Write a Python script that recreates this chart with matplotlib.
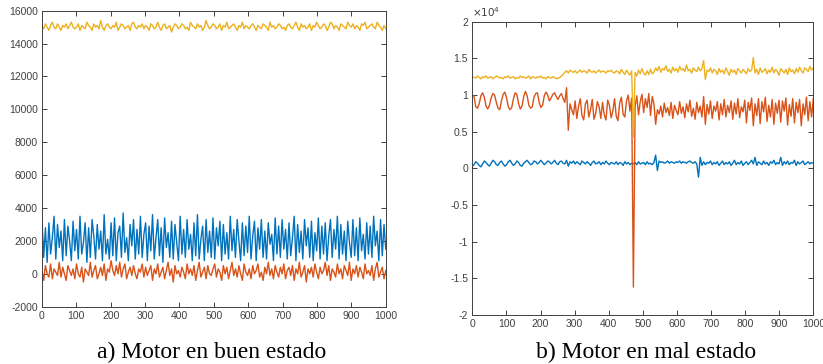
import numpy as np
import matplotlib
matplotlib.use("Agg")
import matplotlib.pyplot as plt
from matplotlib.ticker import FuncFormatter

plt.rcParams['axes.unicode_minus'] = False
plt.rcParams['font.family'] = ['Liberation Sans', 'DejaVu Sans']

# ---- Data (values in hundreds of raw units) ----
good_yellow = [
    151,149,152,150,148,151,153,150,149,152,150,148,151,150,152,149,151,153,150,149,
    150,152,148,151,150,149,153,151,150,148,152,150,151,149,154,150,148,151,152,150,
    149,151,150,153,148,150,152,151,149,150,151,148,152,153,150,149,151,150,152,149,
    151,150,148,152,151,149,150,153,150,148,151,152,149,150,151,147,150,152,151,149,
    150,152,151,149,150,148,153,151,150,149,152,150,151,148,150,154,151,149,150,152,
    151,149,150,152,148,151,150,153,149,150,151,152,150,148,151,150,153,149,151,150,
    149,151,152,150,148,151,150,149,152,151,150,148,153,150,151,149,150,152,151,149,
    150,148,151,152,150,149,151,153,150,148,152,150,151,149,150,152,148,151,150,153,
    151,149,150,152,151,148,150,153,152,149,151,150,148,152,151,150,149,153,151,150,
    152,149,151,150,148,152,151,153,149,150,151,152,150,149,153,151,150,148,151,149,
]
good_blue = [
    33,10,28,7,31,12,22,35,9,30,16,26,8,33,11,29,20,8,32,14,
    27,9,35,12,19,31,7,28,10,33,23,9,30,15,26,8,36,12,21,9,
    31,11,34,8,25,29,10,37,13,22,8,30,17,33,9,27,12,35,10,24,
    31,8,29,14,36,9,22,33,11,28,7,34,16,25,10,32,9,30,19,8,
    35,12,27,10,33,15,24,8,31,11,36,9,21,29,8,33,13,26,10,34,
    9,28,17,32,8,30,12,25,9,35,14,27,10,33,20,8,31,11,29,13,
    35,9,23,32,8,28,15,33,10,26,9,31,18,24,8,34,12,29,10,33,
    15,27,9,31,11,22,35,8,30,13,26,9,33,17,28,10,32,8,25,14,
    34,9,29,12,31,8,23,33,10,27,15,35,9,30,12,26,8,32,19,10,
    33,11,28,8,34,14,24,9,31,12,29,10,35,17,26,8,33,11,30,15,
]
good_red = [
    2,-4,5,0,-2,6,-3,3,1,-1,7,-2,4,0,-4,5,2,-1,3,-3,
    6,0,-2,4,-5,3,1,-1,7,-2,2,5,-3,0,4,-1,6,-4,3,1,
    8,2,-1,5,0,7,-2,3,6,-3,1,4,-1,5,0,-3,3,1,6,-2,
    4,-1,2,5,-4,3,0,6,-2,1,4,-3,2,7,-1,3,-5,5,0,2,
    -2,4,1,-3,6,0,3,-1,5,-4,2,7,-2,1,4,-3,5,0,-1,3,
    6,-2,3,1,-4,5,0,4,-3,2,7,-1,3,-2,5,0,-4,6,1,-1,
    3,-3,5,0,2,6,-2,1,-4,4,0,7,-1,3,-3,5,1,-2,4,0,
    6,-3,2,4,-1,5,-4,3,0,7,-2,1,5,-5,3,0,4,-2,6,1,
    -3,4,0,2,7,-1,5,-4,3,1,-2,6,0,3,-3,5,2,-1,7,-4,
    3,0,5,-2,4,1,-3,6,0,2,-1,5,-4,3,7,-2,1,4,-3,2,
]
bad_yellow = [
    125,124,123,126,124,122,125,124,126,123,124,125,122,124,126,125,123,124,122,125,
    124,126,123,124,125,122,124,123,126,124,125,123,124,126,122,125,124,123,125,124,
    126,123,124,122,125,124,123,125,124,122,123,124,126,128,131,133,130,134,132,131,
    133,130,132,134,131,133,132,130,135,132,131,133,130,132,134,131,133,132,130,133,
    132,134,131,130,133,132,129,135,131,128,134,130,127,133,43,131,126,134,129,136,
    130,127,133,128,135,129,131,137,133,139,131,136,134,140,132,135,130,138,133,136,
    131,139,134,136,132,141,133,135,130,137,134,132,138,133,136,147,121,134,132,137,
    130,135,133,128,136,131,134,129,137,132,127,135,131,134,128,136,133,130,135,132,
    129,136,132,134,151,130,135,128,137,131,133,136,129,134,131,138,130,135,132,127,
    136,133,130,135,128,137,132,134,129,136,131,138,133,130,137,135,132,139,134,137,
]
bad_red = [
    100,98,84,82,88,99,103,97,85,81,86,96,102,100,90,82,80,92,101,104,
    96,84,80,83,95,103,101,88,81,85,98,105,99,86,82,84,97,102,103,90,
    83,86,99,104,100,92,96,101,103,98,94,99,102,95,90,110,52,88,80,73,
    92,68,85,95,72,66,88,93,70,80,94,67,75,91,84,68,90,73,66,93,
    86,69,78,95,71,65,89,97,74,70,92,100,78,96,-162,84,99,73,91,101,
    76,95,83,102,72,98,88,60,80,74,85,70,89,76,83,72,90,68,86,79,
    73,91,75,84,69,88,77,93,71,82,67,90,76,85,70,98,60,87,74,92,
    68,85,78,91,66,88,73,94,70,86,76,92,67,89,74,95,69,84,77,93,
    62,90,79,96,58,88,72,95,61,91,77,97,64,86,70,94,60,89,75,93,
    63,92,78,96,59,87,71,95,62,90,76,94,58,88,73,97,65,91,70,95,
]
bad_blue = [
    3,5,9,7,4,2,6,10,8,5,3,7,11,9,5,4,8,10,6,3,
    5,9,11,7,4,6,10,8,4,3,7,9,11,8,5,6,10,9,6,8,
    11,8,5,7,10,9,6,8,11,7,5,9,10,7,6,11,3,9,7,10,
    6,9,7,5,10,8,6,9,7,4,8,10,6,7,9,5,8,6,10,7,
    5,8,7,6,9,5,8,7,4,9,6,8,5,7,6,8,5,9,6,7,
    8,5,9,6,7,5,8,18,-3,10,8,9,7,8,10,7,9,8,7,9,
    8,10,7,9,8,7,9,10,8,7,9,6,-12,15,4,9,5,8,7,10,
    5,8,6,9,4,7,10,5,8,6,9,4,7,11,5,8,6,10,4,7,
    9,5,8,11,6,15,4,9,7,5,10,6,8,4,9,7,11,5,8,6,
    15,4,9,6,10,5,8,7,11,4,9,6,8,10,5,7,9,6,8,7,
]
UNIT = 100
x_max = 1000
left_yticks = [-2000, 0, 2000, 4000, 6000, 8000, 10000, 12000, 14000, 16000]
right_yticks = [-20000, -15000, -10000, -5000, 0, 5000, 10000, 15000, 20000]
xticks = list(range(0, 1001, 100))
captions = ["a) Motor en buen estado", "b) Motor en mal estado"]

C_BLUE = '#0072BD'
C_RED = '#D95319'
C_YEL = '#EDB120'
AX_COL = '#404040'

fig = plt.figure(figsize=(8.23, 3.64), dpi=100)
axL = fig.add_axes([0.0510, 0.1574, 0.4177, 0.8132])
axR = fig.add_axes([0.5739, 0.1346, 0.4143, 0.8058])

def series_x(vals):
    return np.linspace(0, x_max, len(vals))

for ax, sets in [(axL, [(good_blue, C_BLUE), (good_red, C_RED), (good_yellow, C_YEL)]),
                 (axR, [(bad_blue, C_BLUE), (bad_red, C_RED), (bad_yellow, C_YEL)])]:
    for vals, col in sets:
        ax.plot(series_x(vals), np.array(vals) * UNIT, color=col, lw=1.0)
    ax.set_xlim(0, x_max)
    ax.set_xticks(xticks)
    ax.tick_params(direction='in', top=True, right=True, length=3.5, width=0.7,
                   labelsize=7.5, colors=AX_COL, pad=3)
    for s in ax.spines.values():
        s.set_color(AX_COL)
        s.set_linewidth(0.7)

axL.set_ylim(-2000, 16000)
axL.set_yticks(left_yticks)

axR.set_ylim(-20000, 20000)
axR.set_yticks(right_yticks)
axR.yaxis.set_major_formatter(FuncFormatter(lambda v, p: '%g' % (v / 1e4)))
axR.text(0.0, 1.008, r'$\times10^4$', transform=axR.transAxes, fontsize=7.5,
         color=AX_COL, ha='left', va='bottom')

fig.text(212 / 823, 0.0165, captions[0], ha='center', va='baseline',
         fontsize=17, family=['Liberation Serif', 'DejaVu Serif'], color='black')
fig.text(646 / 823, 0.0165, captions[1], ha='center', va='baseline',
         fontsize=17, family=['Liberation Serif', 'DejaVu Serif'], color='black')

fig.savefig('out.png', dpi=100)
